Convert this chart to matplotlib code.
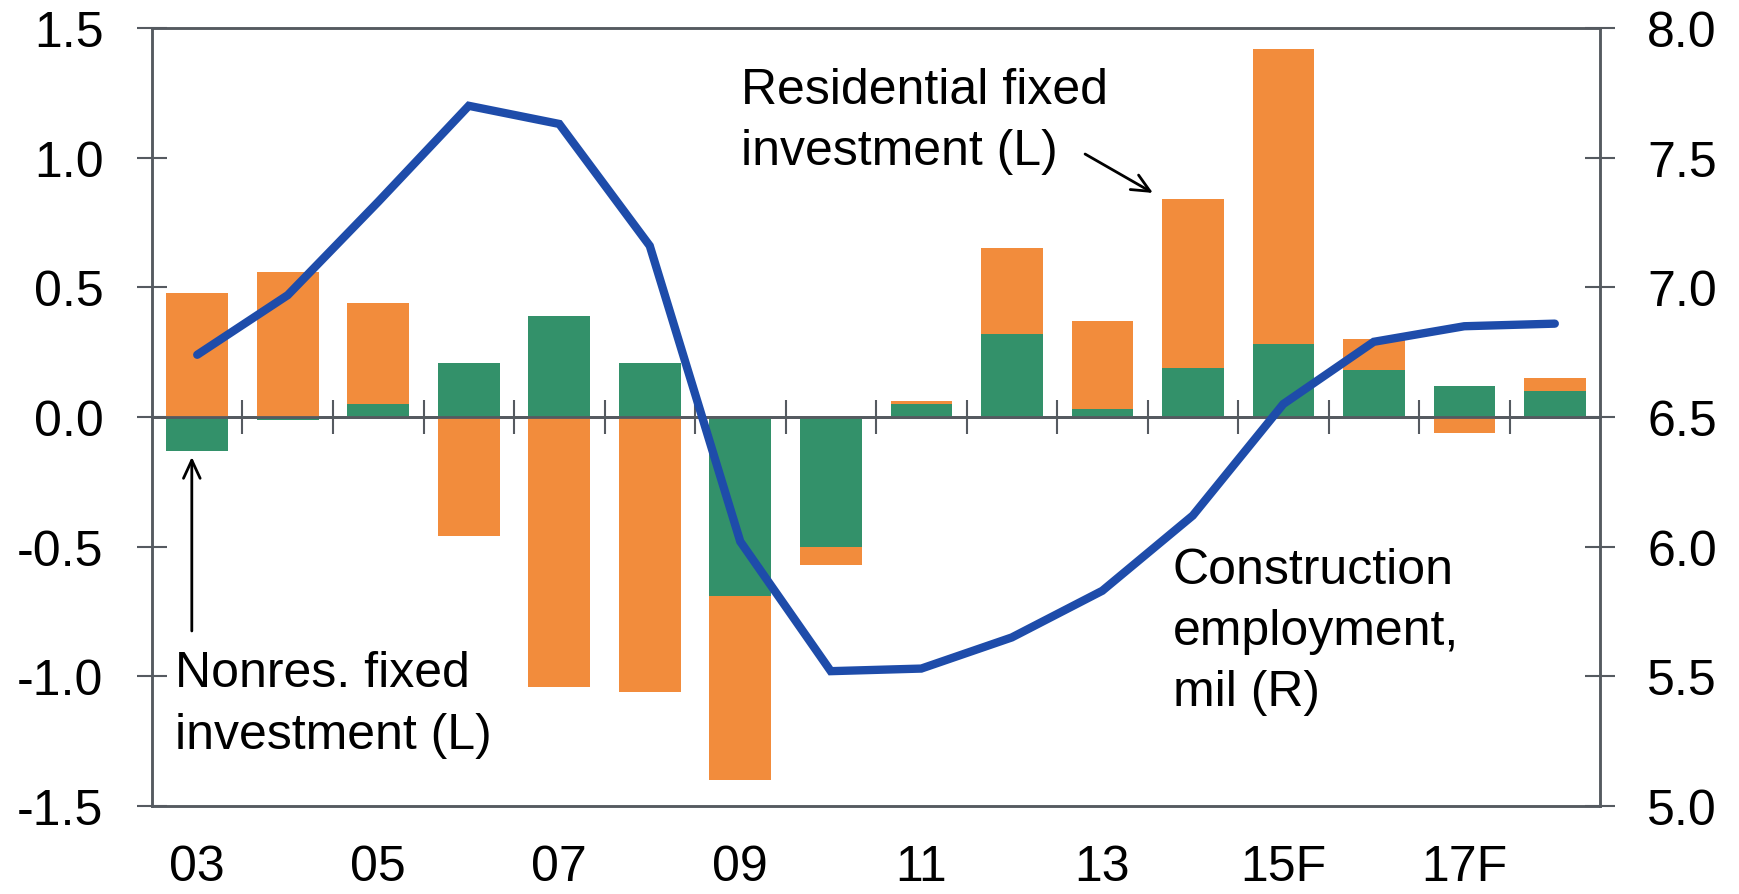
import numpy as np
import matplotlib
matplotlib.use("Agg")
import matplotlib.pyplot as plt

plt.rcParams["font.family"] = ["Liberation Sans", "DejaVu Sans"]
plt.rcParams["axes.unicode_minus"] = False

# data
years = np.arange(2003, 2019)
nonres = [-0.13, -0.01, 0.05, 0.21, 0.39, 0.21, -0.69, -0.50,
          0.05, 0.32, 0.03, 0.19, 0.28, 0.18, 0.12, 0.10]
resid = [0.48, 0.56, 0.39, -0.46, -1.04, -1.06, -0.71, -0.07,
         0.01, 0.33, 0.34, 0.65, 1.14, 0.12, -0.06, 0.05]
employment = [6.74, 6.97, 7.33, 7.70, 7.63, 7.16, 6.02, 5.52,
              5.53, 5.65, 5.83, 6.12, 6.55, 6.79, 6.85, 6.86]
label_years = [2003, 2005, 2007, 2009, 2011, 2013, 2015, 2017]
label_text = ["03", "05", "07", "09", "11", "13", "15F", "17F"]

GREEN = "#33916a"
ORANGE = "#f28c3c"
BLUE = "#1e4caa"
GRAY = "#555a60"
FS = 36

nonres = np.array(nonres)
resid = np.array(resid)
# stack: residential sits on top of nonres when both have the same sign
resid_base = np.where(np.sign(resid) == np.sign(nonres), nonres, 0.0)

fig = plt.figure(figsize=(17.39, 8.95), dpi=100)
ax = fig.add_axes([0.0874, 0.0983, 0.8327, 0.8693])

ax.bar(years, nonres, width=0.68, color=GREEN, zorder=2)
ax.bar(years, resid, width=0.68, bottom=resid_base, color=ORANGE, zorder=2)
ax.axhline(0, color=GRAY, lw=2, zorder=3)

ax.set_xlim(2002.5, 2018.5)
ax.set_ylim(-1.5, 1.5)
ax.set_yticks(np.arange(-1.5, 1.51, 0.5))
ax.set_yticklabels([f"{v:.1f}" for v in np.arange(-1.5, 1.51, 0.5)])
ax.set_xticks(label_years)
ax.set_xticklabels(label_text)
ax.tick_params(axis="x", length=0, pad=27, labelsize=FS)
ax.tick_params(axis="y", direction="inout", length=22, width=1.5,
               color=GRAY, pad=24, labelsize=FS)
for s in ax.spines.values():
    s.set_color(GRAY)
    s.set_linewidth(1.8)

# category separators on the zero line
sec = ax.secondary_xaxis(0.5)
sec.set_xticks(years[:-1] + 0.5)
sec.tick_params(direction="inout", length=24, width=1.5, color=GRAY,
                labeltop=False, labelbottom=False)
for s in sec.spines.values():
    s.set_color(GRAY)
    s.set_linewidth(2)

ax2 = ax.twinx()
ax2.plot(years, employment, color=BLUE, lw=6, solid_capstyle="round",
         solid_joinstyle="miter")
ax2.set_ylim(5.0, 8.0)
ax2.set_yticks(np.arange(5.0, 8.01, 0.5))
ax2.set_yticklabels([f"{v:.1f}" for v in np.arange(5.0, 8.01, 0.5)])
ax2.tick_params(axis="y", direction="inout", length=22, width=1.5,
                color=GRAY, pad=23, labelsize=FS)
for s in ax2.spines.values():
    s.set_color(GRAY)
    s.set_linewidth(1.8)

arrow = dict(arrowstyle="->,head_length=1.3,head_width=0.6", color="black",
             lw=2, shrinkA=0, shrinkB=0)
ax.text(2009.01, 1.35, "Residential fixed\ninvestment (L)", fontsize=FS,
        ha="left", va="top", linespacing=1.42)
ax.annotate("", xy=(2013.56, 0.864), xytext=(2012.81, 1.014), arrowprops=arrow)

ax.text(2002.75, -0.9, "Nonres. fixed\ninvestment (L)", fontsize=FS,
        ha="left", va="top", linespacing=1.42)
ax.annotate("", xy=(2002.94, -0.154), xytext=(2002.94, -0.825), arrowprops=arrow)

ax.text(2013.78, -0.5, "Construction\nemployment,\nmil (R)", fontsize=FS,
        ha="left", va="top", linespacing=1.42)

fig.savefig("out.png", dpi=100)
